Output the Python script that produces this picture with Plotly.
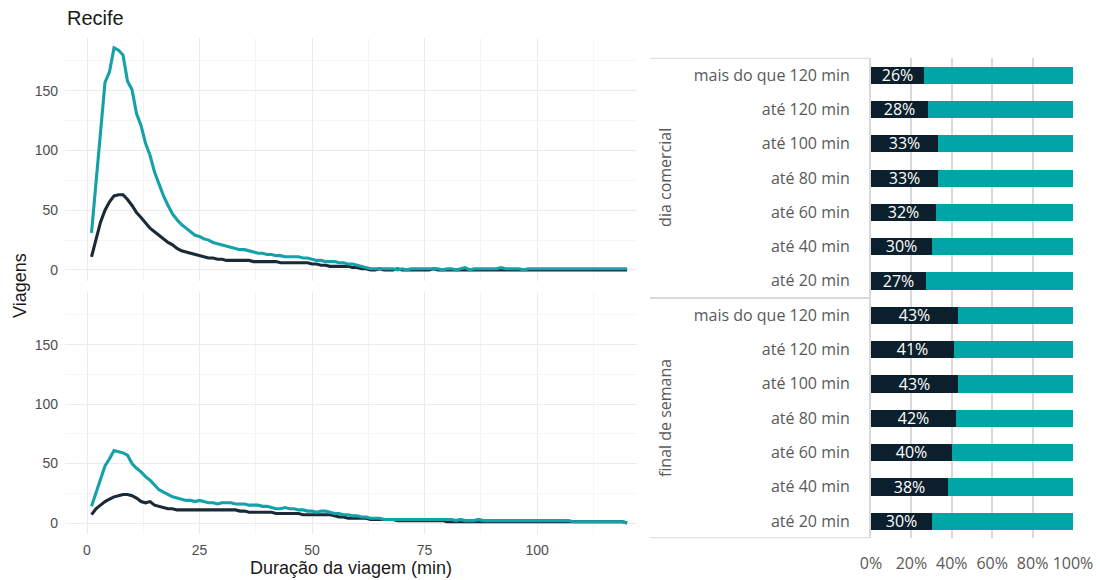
import plotly.graph_objects as go

# ---------------- data ----------------
minutes = list(range(1, 121))

# dia comercial (upper panel)
dia_total = [31, 75, 118, 157, 166, 186, 184, 180, 158, 151,
             131, 121, 106, 96, 82, 72, 62, 54, 47, 42,
             38, 35, 32, 29, 28, 26, 25, 23, 22, 21,
             20, 19, 18, 17, 17, 16, 15, 14, 14, 13,
             13, 12, 12, 11, 11, 11, 11, 10, 10, 9,
             8, 8, 7, 7, 7, 6, 6, 5, 5, 4,
             3, 2, 1, 1, 1, 1, 1, 1, 0, 1,
             0, 1, 1, 1, 1, 1, 1, 1, 0, 1,
             1, 0, 1, 2, 0, 1, 1, 1, 1, 1,
             1, 2, 1, 1, 1, 1, 0, 1, 1, 1,
             1, 1, 1, 1, 1, 1, 1, 1, 1, 1,
             1, 1, 1, 1, 1, 1, 1, 1, 1, 1]
dia_parte = [11, 25, 40, 50, 57, 62, 63, 63, 59, 54,
             48, 44, 39, 35, 32, 29, 26, 23, 21, 18,
             16, 15, 14, 13, 12, 11, 10, 10, 9, 9,
             8, 8, 8, 8, 8, 8, 7, 7, 7, 7,
             7, 7, 6, 6, 6, 6, 6, 6, 6, 5,
             5, 4, 4, 3, 3, 3, 3, 3, 2, 2,
             1, 1, 0, 0, 1, 0, 0, 0, 1, 0,
             0, 0, 0, 0, 0, 0, 1, 0, 0, 0,
             0, 0, 0, 0, 0, 0, 0, 0, 0, 0,
             0, 0, 0, 0, 0, 0, 0, 0, 0, 0,
             0, 0, 0, 0, 0, 0, 0, 0, 0, 0,
             0, 0, 0, 0, 0, 0, 0, 0, 0, 0]

# final de semana (lower panel)
fds_total = [14, 25, 37, 48, 54, 61, 60, 59, 57, 50,
             46, 43, 39, 36, 32, 28, 26, 24, 22, 21,
             20, 19, 19, 18, 19, 18, 17, 17, 16, 17,
             17, 17, 16, 16, 16, 15, 15, 15, 14, 14,
             13, 12, 12, 13, 12, 12, 11, 11, 10, 10,
             9, 10, 10, 9, 8, 8, 7, 7, 6, 6,
             5, 5, 4, 4, 4, 3, 3, 3, 3, 3,
             3, 3, 3, 3, 3, 3, 3, 3, 3, 3,
             3, 2, 3, 2, 2, 2, 3, 2, 2, 2,
             2, 2, 2, 2, 2, 2, 2, 2, 2, 2,
             2, 2, 2, 2, 2, 2, 2, 1, 1, 1,
             1, 1, 1, 1, 1, 1, 1, 1, 1, 0]
fds_parte = [7, 12, 15, 18, 20, 22, 23, 24, 24, 23,
             21, 18, 17, 18, 15, 14, 13, 12, 12, 11,
             11, 11, 11, 11, 11, 11, 11, 11, 11, 11,
             11, 11, 11, 10, 10, 9, 9, 9, 9, 9,
             9, 8, 8, 8, 8, 8, 8, 7, 7, 7,
             7, 7, 7, 7, 6, 5, 5, 4, 4, 4,
             4, 4, 3, 3, 3, 3, 3, 3, 2, 2,
             2, 2, 2, 2, 2, 2, 2, 2, 2, 1,
             1, 1, 1, 1, 1, 1, 1, 1, 1, 1,
             1, 1, 1, 1, 1, 1, 1, 1, 1, 1,
             1, 1, 1, 1, 1, 1, 1, 1, 1, 1,
             1, 1, 1, 1, 1, 1, 1, 1, 1, 0]

faixas = ["até 20 min", "até 40 min", "até 60 min", "até 80 min",
          "até 100 min", "até 120 min", "mais do que 120 min"]
grupos = ["final de semana", "dia comercial"]
pct_fds = [30, 38, 40, 42, 43, 41, 43]
pct_dia = [27, 30, 32, 33, 33, 28, 26]

x_ticks = [0, 25, 50, 75, 100]
y_ticks = [0, 50, 100, 150]
pct_ticks = [0, 0.2, 0.4, 0.6, 0.8, 1.0]
pct_ticktext = ["0%", "20%", "40%", "60%", "80%", "100%"]

# ---------------- style ----------------
TEAL_L = "#14a1a9"
DARK_L = "#1a2a36"
TEAL_B = "#00a5a6"
DARK_B = "#0b1f2c"
W, H = 1100, 580
GG_FONT = "Liberation Sans, Arial, sans-serif"
XL_FONT = "Open Sans, sans-serif"

fig = go.Figure()

# left panels
for total, parte, ya in [(dia_total, dia_parte, "y"), (fds_total, fds_parte, "y2")]:
    fig.add_trace(go.Scatter(x=minutes, y=parte, mode="lines", xaxis="x", yaxis=ya,
                             line=dict(color=DARK_L, width=3.1), showlegend=False))
    fig.add_trace(go.Scatter(x=minutes, y=total, mode="lines", xaxis="x", yaxis=ya,
                             line=dict(color=TEAL_L, width=3.1), showlegend=False))

# right stacked bars
labels_all = faixas + faixas
pct_all = pct_fds + pct_dia
pos = list(range(len(labels_all)))
fig.add_trace(go.Bar(y=pos, x=[p / 100 for p in pct_all], orientation="h",
                     xaxis="x3", yaxis="y3", marker=dict(color=DARK_B, line=dict(width=0)),
                     width=0.5, text=[f"{p}%" for p in pct_all], textposition="inside",
                     insidetextanchor="middle", constraintext="none",
                     textfont=dict(color="white", size=16, family=XL_FONT),
                     showlegend=False))
fig.add_trace(go.Bar(y=pos, x=[1 - p / 100 for p in pct_all], orientation="h",
                     xaxis="x3", yaxis="y3", marker=dict(color=TEAL_B, line=dict(width=0)),
                     width=0.5, showlegend=False))

grid_major = "#ebebeb"
grid_minor = "#f5f5f5"
tickfont = dict(family=GG_FONT, size=14, color="#4d4d4d")

x_dom = [65 / W, 637 / W]
xr = [-4.89, 122.2]
yr = [-9.25, 194.25]

fig.update_layout(
    width=W, height=H, margin=dict(l=0, r=0, t=0, b=0, autoexpand=False),
    paper_bgcolor="white", plot_bgcolor="white", barmode="stack", bargap=0,
    xaxis=dict(domain=x_dom, range=xr, anchor="y2", tickvals=x_ticks, automargin=False,
               showgrid=True, gridcolor=grid_major, gridwidth=1.2, zeroline=False,
               minor=dict(tick0=0, dtick=12.5, showgrid=True, gridcolor=grid_minor, gridwidth=1),
               tickfont=tickfont, ticks="", ticklabelstandoff=6,
               title=dict(text="Duração da viagem (min)", font=dict(family=GG_FONT, size=18, color="#1a1a1a"),
                          standoff=4)),
    yaxis=dict(domain=[1 - 281 / H, 1 - 38 / H], range=yr, anchor="x2", tickvals=y_ticks,
               automargin=False,
               showgrid=True, gridcolor=grid_major, gridwidth=1.2, zeroline=False,
               minor=dict(tick0=0, dtick=25, showgrid=True, gridcolor=grid_minor, gridwidth=1),
               tickfont=tickfont, ticks="", ticklabelstandoff=6),
    yaxis2=dict(domain=[1 - 534 / H, 1 - 292 / H], range=yr, anchor="x", tickvals=y_ticks,
                automargin=False,
                showgrid=True, gridcolor=grid_major, gridwidth=1.2, zeroline=False,
                minor=dict(tick0=0, dtick=25, showgrid=True, gridcolor=grid_minor, gridwidth=1),
                tickfont=tickfont, ticks="", ticklabelstandoff=6),
    xaxis2=dict(domain=x_dom, range=xr, anchor="y", matches="x", showticklabels=False,
                automargin=False,
                showgrid=True, gridcolor=grid_major, gridwidth=1.2, zeroline=False,
                minor=dict(tick0=0, dtick=12.5, showgrid=True, gridcolor=grid_minor, gridwidth=1),
                tickvals=x_ticks, ticks=""),
    xaxis3=dict(domain=[871 / W, 1073 / W], range=[0, 1], anchor="y3", automargin=False,
                tickvals=pct_ticks, ticktext=pct_ticktext, showgrid=True,
                gridcolor="#d9d9d9", gridwidth=1.6, zeroline=False, ticks="",
                tickfont=dict(family=XL_FONT, size=16, color="#595959"), ticklabelstandoff=14),
    yaxis3=dict(domain=[1 - 538.2 / H, 1 - 57.8 / H], range=[-0.5, len(labels_all) - 0.5],
                anchor="x3", tickvals=pos, ticktext=labels_all, showgrid=False, zeroline=False,
                automargin=False,
                showline=True, linecolor="#d9d9d9", linewidth=2, ticks="",
                tickfont=dict(family=XL_FONT, size=16, color="#595959"), ticklabelstandoff=16),
)

# separators on the right side
for yv in [-0.5, len(faixas) - 0.5, len(labels_all) - 0.5]:
    fig.add_shape(type="line", xref="paper", yref="y3", x0=650 / W, x1=870 / W, y0=yv, y1=yv,
                  line=dict(color="#d9d9d9", width=2))

# annotations
fig.add_annotation(text="Recife", xref="paper", yref="paper", x=65 / W, y=1 - 18 / H,
                   xanchor="left", yanchor="middle", showarrow=False,
                   font=dict(family=GG_FONT, size=20, color="#1a1a1a"))
fig.add_annotation(text="Viagens", xref="paper", yref="paper", x=20 / W, y=1 - 286 / H,
                   textangle=-90, showarrow=False, xanchor="center", yanchor="middle",
                   font=dict(family=GG_FONT, size=18, color="#1a1a1a"))
n = len(faixas)
fig.add_annotation(text=grupos[1], xref="paper", yref="y3", x=665 / W, y=n + (n - 1) / 2,
                   textangle=-90, showarrow=False, font=dict(family=XL_FONT, size=16, color="#595959"))
fig.add_annotation(text=grupos[0], xref="paper", yref="y3", x=665 / W, y=(n - 1) / 2,
                   textangle=-90, showarrow=False, font=dict(family=XL_FONT, size=16, color="#595959"))

fig.write_html("out.html")
